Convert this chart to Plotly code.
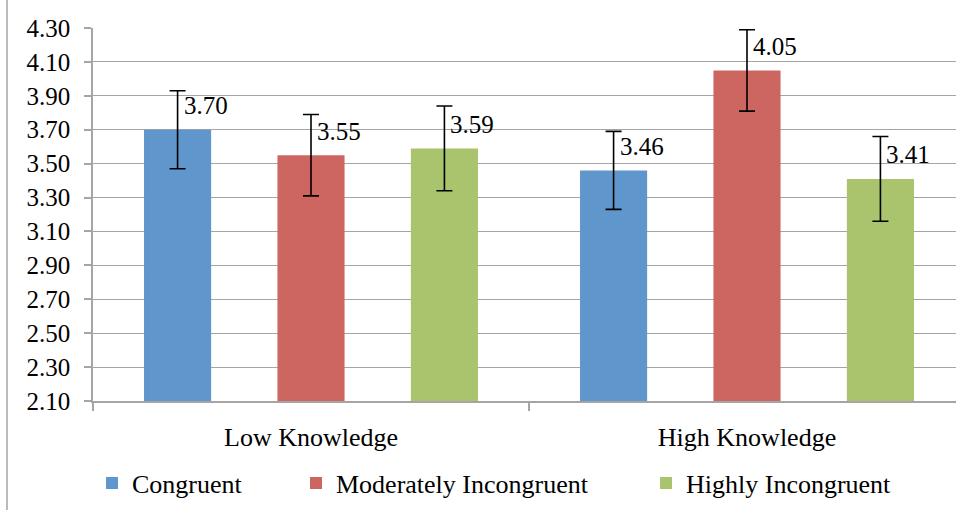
import plotly.graph_objects as go

categories = ["Low Knowledge", "High Knowledge"]
series_names = ["Congruent", "Moderately Incongruent", "Highly Incongruent"]
congruent = [3.70, 3.46]
moderately = [3.55, 4.05]
highly = [3.59, 3.41]
congruent_err = [0.23, 0.23]
moderately_err = [0.24, 0.24]
highly_err = [0.25, 0.25]
y_ticks = [2.10, 2.30, 2.50, 2.70, 2.90, 3.10, 3.30, 3.50, 3.70, 3.90, 4.10, 4.30]

colors = ["#5F96CB", "#CD6661", "#AAC36D"]
values = [congruent, moderately, highly]
errors = [congruent_err, moderately_err, highly_err]

FONT = "Times New Roman, Liberation Serif, serif"
GRID = "#A5A5A5"
bargap = 0.082
bargroupgap = 0.497

x_pos = list(range(len(categories)))

fig = go.Figure()
legend_names = ["legend", "legend2", "legend3"]
for i, name in enumerate(series_names):
    fig.add_trace(go.Bar(
        x=x_pos, y=values[i], name=name,
        marker=dict(color=colors[i], line=dict(width=0)),
        error_y=dict(type="data", array=errors[i], color="black", thickness=1.6, width=8),
        legend=legend_names[i], showlegend=True, hoverinfo="skip",
    ))

# data labels
slot = (1 - bargap) / len(series_names)
annotations = []
for i in range(len(series_names)):
    off = (i - 1) * slot
    for j, xv in enumerate(x_pos):
        annotations.append(dict(
            x=xv + off, y=values[i][j], text=f"{values[i][j]:.2f}",
            showarrow=False, xanchor="left", yanchor="middle",
            xshift=4, yshift=24,
            font=dict(family=FONT, size=25, color="black"),
        ))

plot_left, plot_top, plot_bottom, W, H = 93, 28, 401, 956, 510
plot_w = W - plot_left
plot_h = plot_bottom - plot_top
cat_px = 436
x_max = -0.5 + plot_w / cat_px

def px_x(p):
    return (p - plot_left) / plot_w

def px_y(p):
    return (plot_bottom - p) / plot_h

legend_x_px = [92, 296, 646]
legend_common = dict(orientation="h", yanchor="middle", y=px_y(483), xanchor="left",
                     font=dict(family=FONT, size=26, color="black"),
                     bgcolor="rgba(0,0,0,0)", borderwidth=0)

fig.update_layout(
    width=W, height=H,
    margin=dict(l=plot_left, r=0, t=plot_top, b=H - plot_bottom, autoexpand=False),
    paper_bgcolor="white", plot_bgcolor="white",
    barmode="group", bargap=bargap, bargroupgap=bargroupgap,
    font=dict(family=FONT, color="black"),
    showlegend=True,
    annotations=annotations,
    legend=dict(x=px_x(legend_x_px[0]), **legend_common),
    legend2=dict(x=px_x(legend_x_px[1]), **legend_common),
    legend3=dict(x=px_x(legend_x_px[2]), **legend_common),
    shapes=[dict(type="line", xref="paper", yref="paper",
                 x0=px_x(7), x1=px_x(7), y0=px_y(H), y1=px_y(0),
                 line=dict(color=GRID, width=1.5))],
)

fig.update_yaxes(
    range=[y_ticks[0], y_ticks[-1]], tickvals=y_ticks, tickformat=".2f",
    showgrid=True, gridcolor=GRID, gridwidth=1.4,
    showline=True, linecolor=GRID, linewidth=1.5,
    ticks="outside", ticklen=7, tickcolor=GRID, tickwidth=1.5,
    ticklabelstandoff=9, zeroline=False,
    tickfont=dict(family=FONT, size=25, color="black"),
)
fig.update_xaxes(
    range=[-0.5, x_max], tickvals=x_pos, ticktext=categories,
    showgrid=False, showline=True, linecolor=GRID, linewidth=1.5,
    ticks="", zeroline=False, ticklabelstandoff=12,
    minor=dict(tickvals=[-0.5, 0.5, 1.5], ticks="outside", ticklen=8,
               tickcolor=GRID, tickwidth=1.5, showgrid=False),
    tickfont=dict(family=FONT, size=26, color="black"),
)

fig.write_html("out.html", config={"displayModeBar": False},
               post_script="document.body.style.margin='0';document.body.style.overflow='hidden';")
